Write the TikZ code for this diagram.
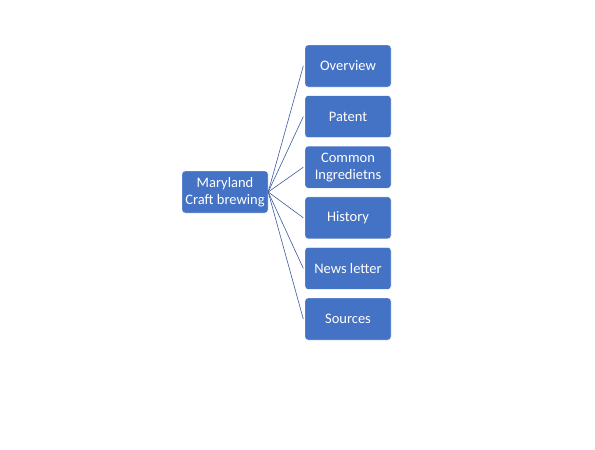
\documentclass[tikz,border=0pt]{standalone}
\usepackage{fontspec}
\setmainfont{Carlito}
\usetikzlibrary{positioning}
\definecolor{office}{RGB}{68,114,196}
\definecolor{wire}{RGB}{60,90,160}
\tikzset{
  card/.style={fill=#1,draw=white,thin,rounded corners=3pt,text=white,
    minimum width=86pt,minimum height=42pt,align=center,font=\fontsize{14.5}{17}\selectfont,inner sep=1pt},
  card/.default=office,
  link/.style={draw=#1,line width=0.6pt},
  link/.default=wire,
}
\begin{document}
\begin{tikzpicture}[x=1pt,y=1pt]
  \useasboundingbox (0,0) rectangle (595,-450);
  \node[card] (root) at (225,-192) {Maryland\\Craft brewing};
  \foreach \n/\t [count=\i] in {ov/Overview,pat/Patent,ing/Common\\Ingredietns,hist/History,news/News letter,src/Sources}
    \node[card] (\n) at (348,{-66-(\i-1)*50.6}) {\t};
  % spokes from the root
  \foreach \n in {ov,pat,ing,hist,news,src}
    \draw[link] (root.east) -- ([xshift=-1.5pt]\n.west);
\end{tikzpicture}
\end{document}
